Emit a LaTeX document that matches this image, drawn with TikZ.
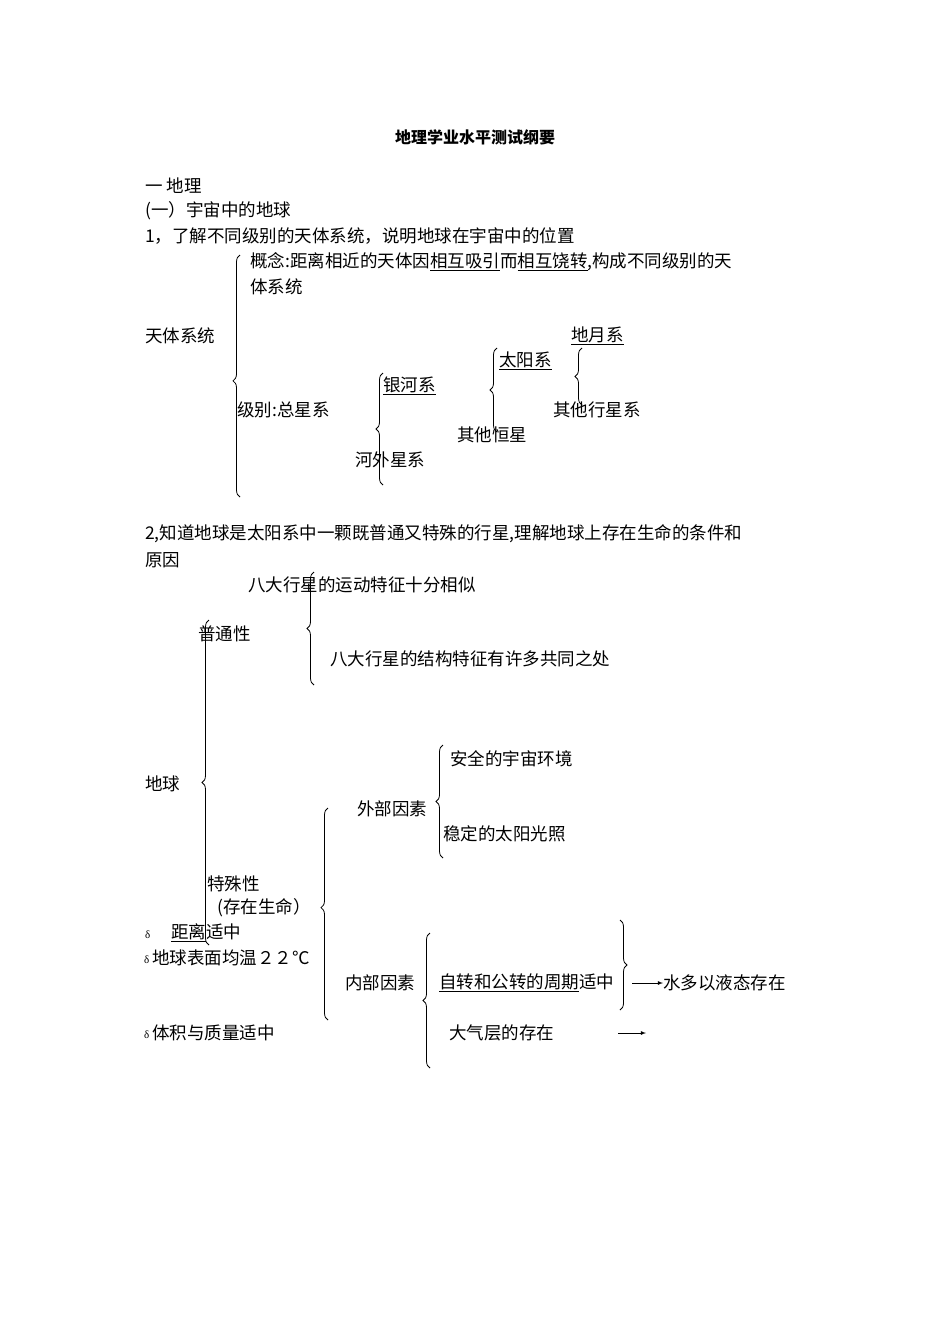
\documentclass[tikz,border=0pt]{standalone}
\usepackage{fontspec}
\setmainfont{Liberation Serif}
\newfontfamily\cjk{Noto Sans CJK SC}
\usetikzlibrary{decorations.pathreplacing}
\begin{document}
\begin{tikzpicture}[x=1pt,y=-1pt,
  t/.style={anchor=west,inner sep=0pt,font=\fontsize{17.5}{18}\selectfont\cjk},
  br/.style={decorate,decoration={brace,amplitude=7pt},line width=0.8pt},
  bul/.style={font=\fontsize{11}{11}\selectfont}]
\useasboundingbox[fill=white] (0,0) rectangle (950,1344);
\node[t,font=\fontsize{16}{16}\selectfont\cjk\bfseries,anchor=center] (title) at (475,137) {地理学业水平测试纲要};
\node[t] (s1) at (145,186) {一 地理};
\node[t] (s2) at (145,211) {(一）宇宙中的地球};
\node[t] (s3) at (145,236) {1，了解不同级别的天体系统，说明地球在宇宙中的位置};
\node[t] (gn) at (250,262) {概念:距离相近的天体因\underline{相互吸引}而\underline{相互饶转},构成不同级别的天};
\node[t] (gn2) at (250,287) {体系统};
\node[t] (tt) at (145,336) {天体系统};
\node[t] (jb) at (237,410) {级别:总星系};
\node[t] (yh) at (383,386) {\underline{银河系}};
\node[t] (hw) at (355,460) {河外星系};
\node[t] (ty) at (499,361) {\underline{太阳系}};
\node[t] (qh) at (457,435) {其他恒星};
\node[t] (dy) at (571,336) {\underline{地月系}};
\node[t] (qx) at (553,410) {其他行星系};
\draw[br,decoration={aspect=0.48}] (240,497) -- (240,255);
\draw[br,decoration={aspect=0.5}] (383,485) -- (383,373);
\draw[br,decoration={aspect=0.5}] (497,432) -- (497,348);
\draw[br,decoration={aspect=0.5}] (582,405) -- (582,348);

\node[t] (q2) at (145,534) {2,知道地球是太阳系中一颗既普通又特殊的行星,理解地球上存在生命的条件和};
\node[t] (q2b) at (145,560) {原因};
\node[t] (p1) at (248,585) {八大行星的运动特征十分相似};
\node[t] (pt) at (198,634) {普通性};
\node[t] (p2) at (330,659) {八大行星的结构特征有许多共同之处};
\draw[br,decoration={aspect=0.5}] (314,685) -- (314,572);
\node[t] (dq) at (145,784) {地球};
\draw[br,decoration={aspect=0.5}] (209,945) -- (209,620);
\node[t] (wb) at (357,809) {外部因素};
\node[t] (w1) at (450,759) {安全的宇宙环境};
\node[t] (w2) at (443,834) {稳定的太阳光照};
\draw[br,decoration={aspect=0.5}] (443,858) -- (443,745);
\node[t] (ts) at (207,884) {特殊性};
\node[t] (ts2) at (217,908) {(存在生命）};
\draw[br,decoration={aspect=0.53}] (328,1020) -- (328,808);
\node[bul,anchor=west,inner sep=0pt] (b1) at (145,935) {δ};
\node[t] (c1) at (171,933) {\underline{距离}适中};
\node[bul,anchor=west,inner sep=0pt] (b2) at (144,960) {δ};
\node[t] (c2) at (152,958) {地球表面均温２２℃};
\node[t] (nb) at (345,983) {内部因素};
\draw[br,decoration={aspect=0.5}] (430,1068) -- (430,933);
\node[t] (n1) at (439,983) {\underline{自转和公转的周期}适中};
\draw[br,decoration={aspect=0.5}] (620,920) -- (620,1010);
\node[t] (sd) at (663,983) {水多以液态存在};
\coordinate (a1) at (632,983);
\draw[-latex,line width=0.8pt] (a1) -- (sd.west);
\node[bul,anchor=west,inner sep=0pt] (b3) at (144,1035) {δ};
\node[t] (c3) at (152,1033) {体积与质量适中};
\node[t] (n2) at (449,1033) {大气层的存在};
\coordinate (a2) at (618,1033);
\coordinate (a3) at (646,1033);
\draw[-latex,line width=0.8pt] (a2) -- (a3);
\end{tikzpicture}
\end{document}
